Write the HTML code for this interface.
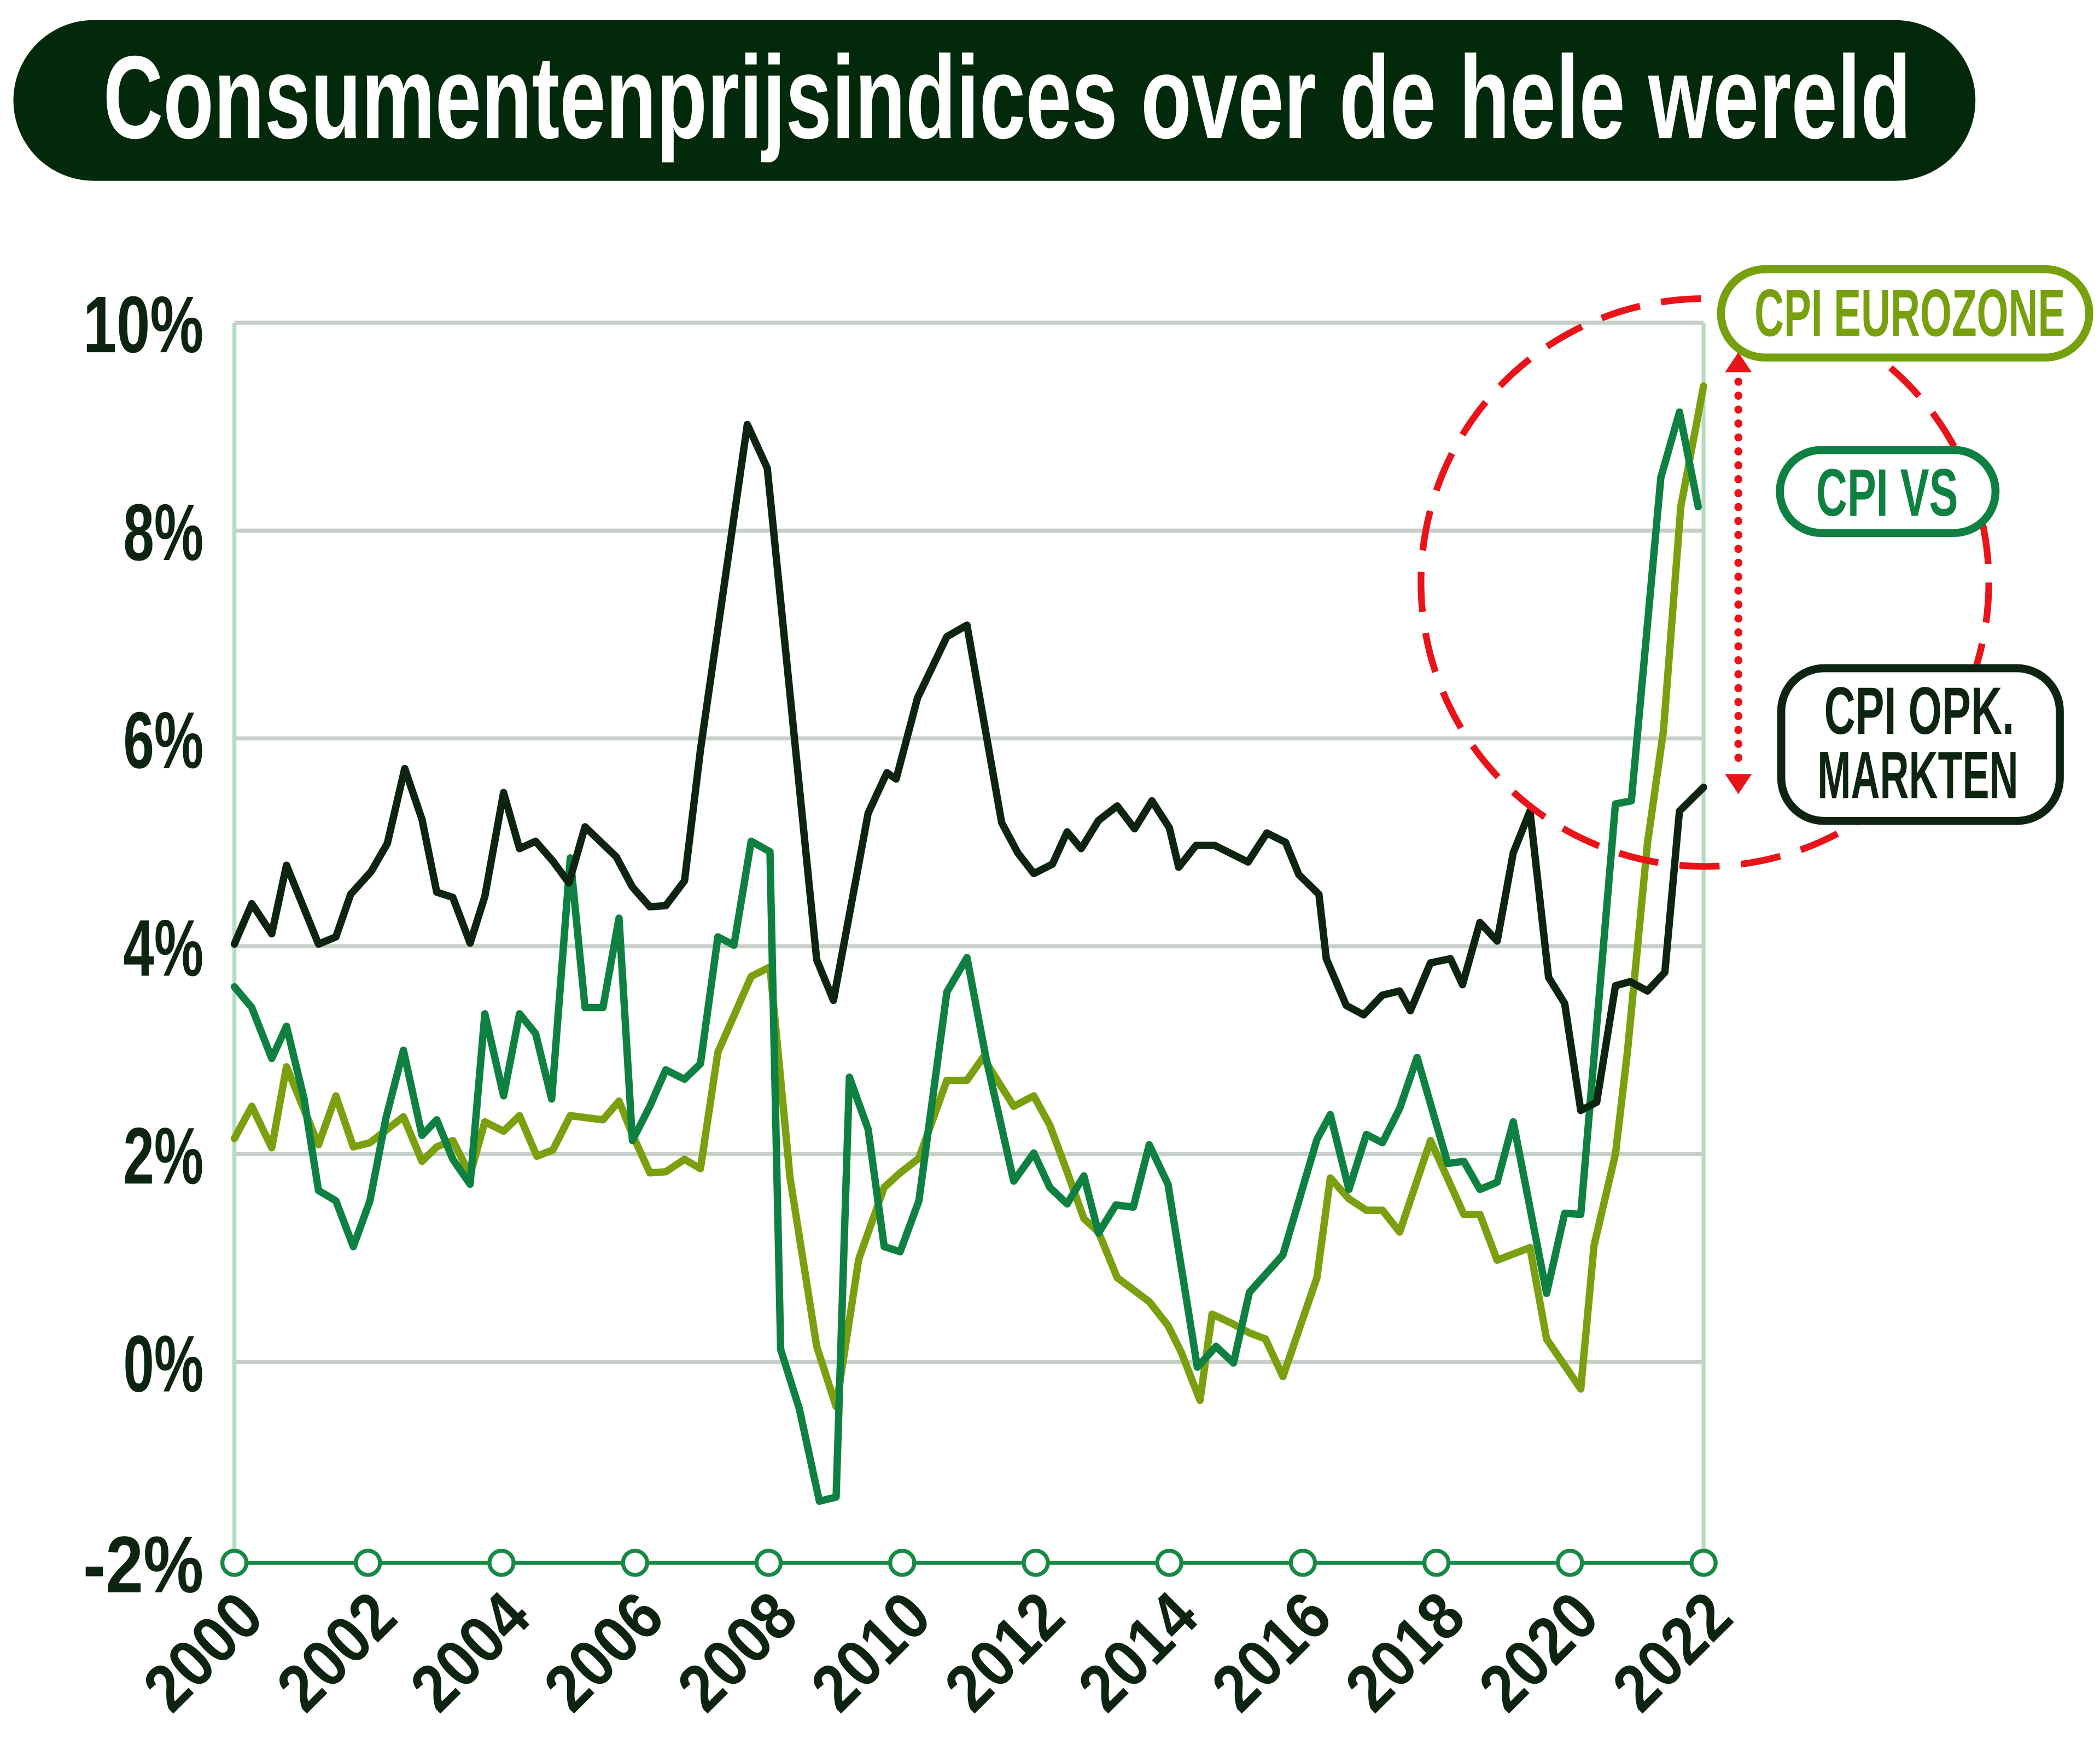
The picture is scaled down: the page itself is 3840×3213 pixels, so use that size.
<!DOCTYPE html>
<html><head><meta charset="utf-8"><title>Consumentenprijsindices over de hele wereld</title>
<style>html,body{margin:0;padding:0;background:#fff}svg{display:block}text{font-family:"Liberation Sans Narrow","Liberation Sans",sans-serif;font-weight:bold}</style>
</head><body>
<svg id="chart" width="3840" height="3213" viewBox="0 0 1568 1312" xmlns="http://www.w3.org/2000/svg">
<rect width="1568" height="1312" fill="#fff"/>
<g>
<rect x="10" y="15" width="1465" height="120" rx="60" fill="#022909"/>
<text x="752" y="103" text-anchor="middle" font-size="88" fill="#fff" textLength="1350" lengthAdjust="spacingAndGlyphs">Consumentenprijsindices over de hele wereld</text>
</g>
<g id="grid"></g>
<g id="yticks"></g>
<line x1="175" y1="241" x2="175" y2="1167" stroke="#b5dbc2" stroke-width="3"/>
<line x1="1272" y1="241" x2="1272" y2="1167" stroke="#b5dbc2" stroke-width="3"/>
<g id="series"></g>
<line x1="175" y1="1167" x2="1272" y2="1167" stroke="#168a45" stroke-width="3"/>
<g id="xticks"></g>
<circle cx="1273" cy="435" r="212" fill="none" stroke="#e8141a" stroke-width="5" stroke-dasharray="30 16"/>
<g>
<line x1="1298" y1="285" x2="1298" y2="572" stroke="#e8141a" stroke-width="6" stroke-linecap="round" stroke-dasharray="0.1 10.3"/>
<polygon points="1298,263 1288,278 1308,278" fill="#e8141a"/>
<polygon points="1298,593 1288,578 1308,578" fill="#e8141a"/>
</g>
<g>
<rect x="1285" y="201" width="275" height="66" rx="33" fill="#fff" stroke="#76a00d" stroke-width="6"/>
<text x="1426" y="251" text-anchor="middle" font-size="50" fill="#76a00d" textLength="232" lengthAdjust="spacingAndGlyphs">CPI EUROZONE</text>
</g>
<g>
<rect x="1329" y="336" width="161" height="62" rx="31" fill="#fff" stroke="#0e8041" stroke-width="6"/>
<text x="1409" y="385" text-anchor="middle" font-size="50" fill="#0e8041" textLength="106" lengthAdjust="spacingAndGlyphs">CPI VS</text>
</g>
<g>
<rect x="1330" y="499" width="208" height="114" rx="32" fill="#fff" stroke="#0d2410" stroke-width="6"/>
<text x="1433" y="548" text-anchor="middle" font-size="50" fill="#0d2410" textLength="142" lengthAdjust="spacingAndGlyphs">CPI OPK.</text>
<text x="1432" y="596" text-anchor="middle" font-size="50" fill="#0d2410" textLength="150" lengthAdjust="spacingAndGlyphs">MARKTEN</text>
</g>
</svg>
<script>
const yTickValues = [10, 8, 6, 4, 2, 0, -2];
const yTickLabels = ["10%", "8%", "6%", "4%", "2%", "0%", "-2%"];
const xTickYears = [2000, 2002, 2004, 2006, 2008, 2010, 2012, 2014, 2016, 2018, 2020, 2022];
const emTime = [2000.00,2000.26,2000.56,2000.78,2001.26,2001.52,2001.74,2002.05,2002.29,2002.55,2002.81,2003.03,2003.27,2003.53,2003.75,2004.03,2004.27,2004.51,2004.77,2005.01,2005.25,2005.72,2005.96,2006.22,2006.46,2006.74,2006.98,2007.68,2007.98,2008.72,2008.97,2009.35,2009.49,2009.77,2009.91,2010.23,2010.67,2010.97,2011.49,2011.73,2011.97,2012.25,2012.47,2012.68,2012.94,2013.22,2013.48,2013.74,2014.00,2014.14,2014.40,2014.68,2015.18,2015.46,2015.74,2015.94,2016.24,2016.35,2016.65,2016.91,2017.19,2017.45,2017.61,2017.91,2018.21,2018.39,2018.65,2018.91,2019.15,2019.40,2019.68,2019.92,2020.16,2020.40,2020.68,2020.90,2021.16,2021.42,2021.64,2022.00];
const emValues = [4.02,4.41,4.12,4.78,4.02,4.09,4.50,4.72,4.99,5.71,5.22,4.52,4.47,4.03,4.48,5.48,4.94,5.01,4.82,4.61,5.15,4.86,4.57,4.38,4.39,4.63,5.89,9.02,8.60,3.87,3.48,4.79,5.28,5.67,5.61,6.39,6.98,7.09,5.19,4.90,4.70,4.79,5.10,4.94,5.21,5.35,5.13,5.40,5.14,4.76,4.97,4.97,4.81,5.09,5.00,4.69,4.50,3.88,3.43,3.34,3.53,3.57,3.38,3.84,3.88,3.63,4.23,4.05,4.90,5.30,3.70,3.45,2.42,2.50,3.62,3.66,3.57,3.75,5.30,5.53];
const usTime = [2000.00,2000.26,2000.56,2000.78,2001.04,2001.26,2001.52,2001.78,2002.03,2002.27,2002.53,2002.81,2003.03,2003.27,2003.53,2003.75,2004.03,2004.27,2004.51,2004.75,2005.03,2005.25,2005.52,2005.76,2005.96,2006.22,2006.46,2006.74,2006.98,2007.24,2007.48,2007.74,2008.02,2008.18,2008.46,2008.76,2009.01,2009.21,2009.49,2009.73,2009.97,2010.25,2010.67,2010.97,2011.25,2011.67,2011.97,2012.21,2012.47,2012.72,2012.94,2013.20,2013.46,2013.70,2013.98,2014.42,2014.70,2014.96,2015.20,2015.70,2016.21,2016.41,2016.69,2016.95,2017.19,2017.45,2017.71,2018.17,2018.41,2018.65,2018.91,2019.15,2019.65,2019.92,2020.16,2020.68,2020.92,2021.36,2021.64,2021.92];
const usValues = [3.61,3.41,2.92,3.23,2.54,1.65,1.55,1.11,1.55,2.35,3.00,2.18,2.33,1.95,1.71,3.35,2.56,3.35,3.16,2.53,4.85,3.41,3.41,4.27,2.13,2.46,2.81,2.72,2.87,4.09,4.01,5.01,4.91,0.12,-0.45,-1.34,-1.30,2.74,2.24,1.11,1.06,1.55,3.56,3.89,2.94,1.74,2.01,1.68,1.52,1.79,1.24,1.51,1.49,2.09,1.71,-0.05,0.15,-0.01,0.67,1.03,2.14,2.38,1.66,2.19,2.11,2.44,2.93,1.91,1.93,1.66,1.73,2.31,0.66,1.43,1.42,5.37,5.40,8.51,9.14,8.23];
const ezTime = [2000.00,2000.26,2000.56,2000.78,2001.26,2001.52,2001.78,2002.03,2002.53,2002.81,2003.03,2003.27,2003.53,2003.75,2004.03,2004.27,2004.53,2004.77,2005.03,2005.52,2005.76,2005.96,2006.22,2006.46,2006.74,2006.98,2007.24,2007.74,2008.02,2008.32,2008.72,2009.01,2009.35,2009.73,2009.97,2010.25,2010.67,2010.97,2011.21,2011.67,2011.97,2012.21,2012.47,2012.72,2012.94,2013.22,2013.70,2013.98,2014.18,2014.46,2014.64,2014.94,2015.20,2015.44,2015.70,2016.21,2016.41,2016.69,2016.95,2017.19,2017.45,2017.91,2018.41,2018.65,2018.91,2019.40,2019.65,2020.16,2020.36,2020.68,2020.86,2021.16,2021.40,2021.66,2022.00];
const ezValues = [2.15,2.46,2.06,2.84,2.09,2.56,2.07,2.11,2.36,1.93,2.07,2.13,1.80,2.31,2.22,2.37,1.98,2.04,2.37,2.33,2.51,2.19,1.82,1.83,1.95,1.86,2.98,3.71,3.80,1.77,0.15,-0.43,0.99,1.68,1.82,1.96,2.71,2.71,2.93,2.46,2.56,2.28,1.83,1.38,1.25,0.81,0.58,0.35,0.09,-0.37,0.46,0.37,0.28,0.22,-0.14,0.81,1.77,1.57,1.46,1.46,1.25,2.13,1.42,1.42,0.98,1.10,0.22,-0.26,1.12,2.00,2.99,4.99,6.08,8.23,9.39];

const NS = "http://www.w3.org/2000/svg";
const X0 = 175, X1 = 1272, T0 = 2000, T1 = 2022;
const xScale = t => X0 + (t - T0) / (T1 - T0) * (X1 - X0);
const yScale = v => 1017 - v * 77.6;
function mk(tag, attrs, parent) {
  const el = document.createElementNS(NS, tag);
  for (const k in attrs) el.setAttribute(k, attrs[k]);
  parent.appendChild(el);
  return el;
}
const grid = document.getElementById("grid");
const yt = document.getElementById("yticks");
yTickValues.forEach((v, i) => {
  const y = v === -2 ? 1167 : yScale(v);
  if (v !== -2) {
    const ln = mk("line", {x1: X0, x2: X1, y1: y, y2: y, stroke: "#c8cfc9", "stroke-width": 3}, grid);
    
    
  }
  const lab = yTickLabels[i];
  const t = mk("text", {x: 152, y: y + 22, "text-anchor": "end", "font-size": 60, fill: "#0d2410", textLength: lab.length * 30, lengthAdjust: "spacingAndGlyphs"}, yt);
  t.textContent = lab;
  
  
});
const xt = document.getElementById("xticks");
xTickYears.forEach(yr => {
  const x = xScale(yr);
  const c = mk("circle", {cx: x, cy: 1167, r: 9, fill: "#fff", stroke: "#168a45", "stroke-width": 3}, xt);
  
  
  const t = mk("text", {x: 0, y: 0, "text-anchor": "end", "font-size": 50, fill: "#0d2410", textLength: 100, lengthAdjust: "spacingAndGlyphs", transform: "translate(" + (x + 24) + ",1210) rotate(-45)"}, xt);
  t.textContent = String(yr);
  
  
});
const series = document.getElementById("series");
function drawLine(ts, vs, color, name) {
  const pts = ts.map((t, i) => xScale(t).toFixed(1) + "," + yScale(vs[i]).toFixed(1)).join(" ");
  const p = mk("polyline", {points: pts, fill: "none", stroke: color, "stroke-width": 5.5, "stroke-linejoin": "round", "stroke-linecap": "round"}, series);
  
  
}
drawLine(ezTime, ezValues, "#7aa00f", "line-cpi-eurozone");
drawLine(usTime, usValues, "#0e8041", "line-cpi-us");
drawLine(emTime, emValues, "#0d2410", "line-cpi-emerging-markets");
</script>
</body></html>
